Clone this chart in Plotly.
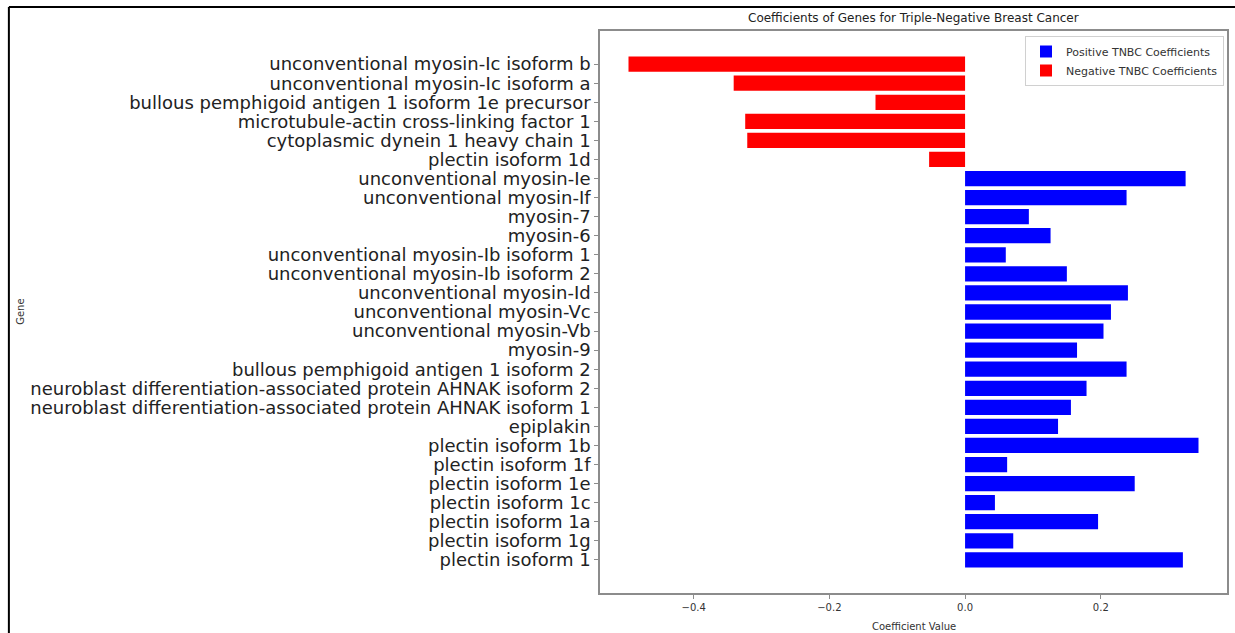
import plotly.graph_objects as go

genes = [
    "unconventional myosin-Ic isoform b",
    "unconventional myosin-Ic isoform a",
    "bullous pemphigoid antigen 1 isoform 1e precursor",
    "microtubule-actin cross-linking factor 1",
    "cytoplasmic dynein 1 heavy chain 1",
    "plectin isoform 1d",
    "unconventional myosin-Ie",
    "unconventional myosin-If",
    "myosin-7",
    "myosin-6",
    "unconventional myosin-Ib isoform 1",
    "unconventional myosin-Ib isoform 2",
    "unconventional myosin-Id",
    "unconventional myosin-Vc",
    "unconventional myosin-Vb",
    "myosin-9",
    "bullous pemphigoid antigen 1 isoform 2",
    "neuroblast differentiation-associated protein AHNAK isoform 2",
    "neuroblast differentiation-associated protein AHNAK isoform 1",
    "epiplakin",
    "plectin isoform 1b",
    "plectin isoform 1f",
    "plectin isoform 1e",
    "plectin isoform 1c",
    "plectin isoform 1a",
    "plectin isoform 1g",
    "plectin isoform 1",
]
coefficients = [
    -0.496, -0.341, -0.132, -0.324, -0.321, -0.053,
    0.325, 0.238, 0.094, 0.126, 0.060, 0.150, 0.240, 0.215, 0.204,
    0.165, 0.238, 0.179, 0.156, 0.137, 0.344, 0.062, 0.250, 0.044,
    0.196, 0.071, 0.321,
]
x_ticks = [-0.4, -0.2, 0.0, 0.2]
x_tick_labels = ["\u22120.4", "\u22120.2", "0.0", "0.2"]

pos_genes = [g for g, c in zip(genes, coefficients) if c >= 0]
pos_vals = [c for c in coefficients if c >= 0]
neg_genes = [g for g, c in zip(genes, coefficients) if c < 0]
neg_vals = [c for c in coefficients if c < 0]

fig = go.Figure()
fig.add_trace(go.Bar(x=pos_vals, y=pos_genes, orientation="h", name="Positive TNBC Coefficients",
                     marker=dict(color="#0000ff", line=dict(width=0))))
fig.add_trace(go.Bar(x=neg_vals, y=neg_genes, orientation="h", name="Negative TNBC Coefficients",
                     marker=dict(color="#ff0000", line=dict(width=0))))

W, H = 1235, 633
L, R, T, B = 600, 1229, 31, 593
pw, ph = R - L, B - T

def px(x):
    return (x - L) / pw

def py(y):
    return (B - y) / ph

n = len(genes)
pad = 0.4 + 0.05 * (n - 1 + 0.8)
vmin, vmax = min(coefficients), max(coefficients)
span = vmax - vmin

axcol = "#8c8c8c"
fig.update_layout(
    width=W, height=H,
    margin=dict(l=L, r=W - R, t=T, b=H - B),
    paper_bgcolor="white", plot_bgcolor="white",
    barmode="relative", bargap=0.2,
    font=dict(family="DejaVu Sans", color="#222222"),
    showlegend=True,
    legend=dict(x=px(1226), y=py(36), xanchor="right", yanchor="top",
                bgcolor="white", bordercolor="#d0d0d0", borderwidth=1,
                font=dict(size=11, family="DejaVu Sans", color="#333333"),
                traceorder="normal", itemwidth=30, tracegroupgap=0),
    xaxis=dict(range=[vmin - 0.05 * span, vmax + 0.05 * span],
               tickvals=x_ticks, ticktext=x_tick_labels,
               tickfont=dict(size=10, color="#333333"),
               ticks="outside", ticklen=4, tickcolor=axcol,
               showgrid=False, zeroline=False,
               showline=True, linecolor=axcol, linewidth=1.5, mirror=True),
    yaxis=dict(type="category", categoryorder="array", categoryarray=genes,
               tickmode="array", tickvals=genes, ticktext=genes,
               range=[n - 1 + pad, -pad],
               tickfont=dict(size=18, color="#222222"),
               ticks="outside", ticklen=4, tickcolor=axcol,
               showgrid=False, zeroline=False,
               showline=True, linecolor=axcol, linewidth=1.5, mirror=True),
    annotations=[
        dict(text="Coefficients of Genes for Triple-Negative Breast Cancer", xref="paper", yref="paper",
             x=0.5, y=py(18), xanchor="center", yanchor="middle", showarrow=False,
             font=dict(size=12, color="#222222")),
        dict(text="Coefficient Value", xref="paper", yref="paper",
             x=0.5, y=py(626), xanchor="center", yanchor="middle", showarrow=False,
             font=dict(size=10, color="#333333")),
        dict(text="Gene", xref="paper", yref="paper", textangle=-90,
             x=px(18), y=0.5, xanchor="center", yanchor="middle", showarrow=False,
             font=dict(size=10, color="#333333")),
    ],
    shapes=[
        dict(type="line", xref="paper", yref="paper", x0=px(7), x1=px(1240), y0=py(7), y1=py(7),
             line=dict(color="black", width=2)),
        dict(type="line", xref="paper", yref="paper", x0=px(7), x1=px(7), y0=py(7), y1=py(640),
             line=dict(color="black", width=2)),
    ],
)

fig.write_html("out.html")
